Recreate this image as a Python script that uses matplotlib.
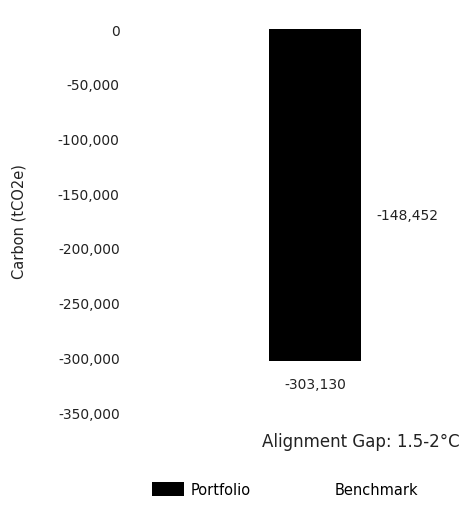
import matplotlib.pyplot as plt
from matplotlib.patches import Patch

category = ["Alignment Gap: 1.5-2°C"]
series = ["Portfolio", "Benchmark"]
values = [-303130, -148452]
colors = ["#000000", "#ffffff"]
yticks = [0, -50000, -100000, -150000, -200000, -250000, -300000, -350000]

plt.rcParams['font.family'] = ['DejaVu Sans']

fig = plt.figure(figsize=(4.67, 5.10), dpi=100)
ax = fig.add_axes([0.28, 0.19, 0.72, 0.751])

width = 0.4
for i in range(len(series)):
    x = (i - 0.5) * width
    ax.bar(x, values[i], width=width, color=colors[i], label=series[i])
    ax.annotate(f"{values[i]:,}", (x, values[i]), xytext=(0, -12),
                textcoords="offset points", ha="center", va="top",
                fontsize=10, color="#222222")

ax.set_ylim(-350000, 0)
ax.set_xlim(-1.0, 0.46)
ax.set_yticks(yticks)
ax.set_yticklabels([f"{v:,}" for v in yticks], fontsize=10, color="#222222")
ax.set_xticks([0])
ax.set_xticklabels(category, fontsize=12, color="#222222")
ax.tick_params(length=0, pad=14)
ax.tick_params(axis="y", pad=8)
for s in ax.spines.values():
    s.set_visible(False)
ax.set_ylabel("Carbon (tCO2e)", fontsize=10.5, color="#222222")
ax.yaxis.set_label_coords(-0.31, 0.5)

handles = [Patch(facecolor=colors[0]), Patch(facecolor=colors[1])]
fig.legend(handles, series, loc="center", bbox_to_anchor=(0.61, 0.038),
           ncol=2, frameon=False, fontsize=10.5, handlelength=2.2,
           handleheight=1.1, handletextpad=0.5, columnspacing=3.0)

fig.savefig("out.png", dpi=100)
